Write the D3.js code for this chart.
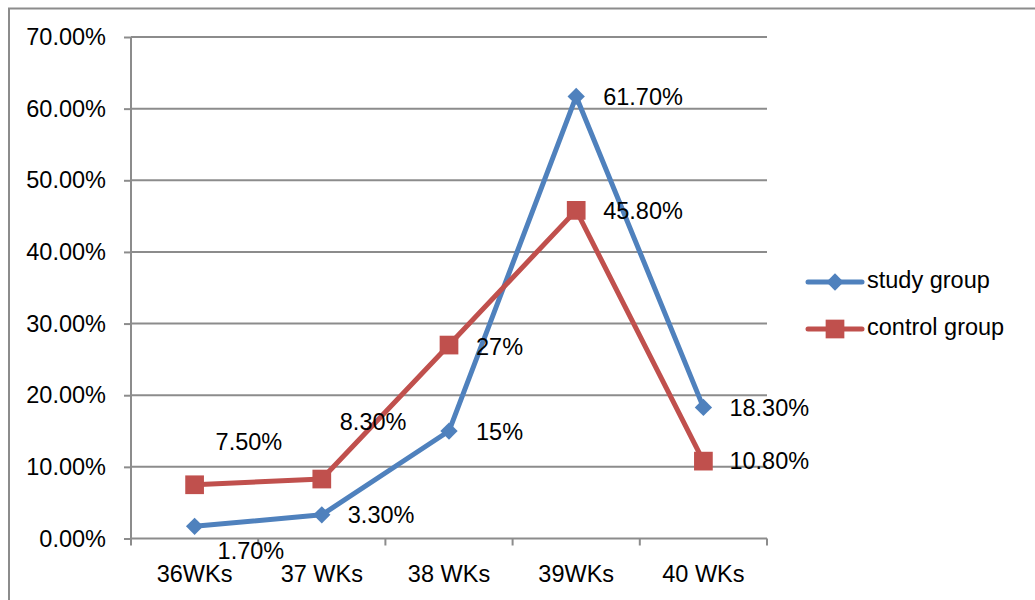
<!DOCTYPE html>
<html>
<head>
<meta charset="utf-8">
<script src="https://cdn.jsdelivr.net/npm/d3@7"></script>
<style>
  html, body { margin: 0; padding: 0; background: #fff; }
  svg { display: block; }
  text { font-family: "Liberation Sans", Arial, sans-serif; fill: #000; }
</style>
</head>
<body>
<svg id="chart" width="1035" height="600"></svg>
<script>
// Gestational age at delivery, share of each group
const categories = ["36WKs", "37 WKs", "38 WKs", "39WKs", "40 WKs"];
const studyGroup = [1.7, 3.3, 15, 61.7, 18.3];
const controlGroup = [7.5, 8.3, 27, 45.8, 10.8];
const studyLabels = ["1.70%", "3.30%", "15%", "61.70%", "18.30%"];
const controlLabels = ["7.50%", "8.30%", "27%", "45.80%", "10.80%"];
const yTicks = [0, 10, 20, 30, 40, 50, 60, 70];
const seriesNames = ["study group", "control group"];

// label placement relative to each point (dx, dy)
const studyLabelOffsets = [[23, 26], [26, 2], [27, 3], [27, 2], [26, 2]];
const controlLabelOffsets = [[21, -41], [18, -55], [27, 4], [27, 2], [26, 2]];

const FONT = 23.5;

const svg = d3.select("#chart");
const margin = { left: 131, right: 767, top: 37, bottom: 538.5 };

const x = d3.scaleBand().domain(categories).range([margin.left, margin.right]);
const y = d3.scaleLinear().domain([0, 70]).range([margin.bottom, margin.top]);

const gridColor = "#8c8c8c";
const blue = "#4F81BD";
const red = "#C0504D";

// outer frame
svg.append("path")
  .attr("d", "M9,600 V8.5 H1035")
  .attr("fill", "none").attr("stroke", gridColor).attr("stroke-width", 2);

// horizontal gridlines
svg.append("g").selectAll("line").data(yTicks.filter(d => d > 0)).join("line")
  .attr("x1", margin.left).attr("x2", margin.right)
  .attr("y1", d => y(d)).attr("y2", d => y(d))
  .attr("stroke", gridColor).attr("stroke-width", 2);

// y axis
const yAxis = d3.axisLeft(y).tickValues(yTicks).tickSize(7).tickPadding(18)
  .tickFormat(d => d.toFixed(2) + "%");
const gy = svg.append("g").attr("transform", `translate(${margin.left},0)`).call(yAxis);
gy.select(".domain").attr("stroke", gridColor).attr("stroke-width", 2)
  .attr("d", `M0,${margin.top}V${margin.bottom}`);
gy.selectAll(".tick line").attr("stroke", gridColor).attr("stroke-width", 2);
gy.selectAll(".tick text").attr("font-size", FONT).attr("font-family", "Liberation Sans").attr("fill", "#000");

// x axis
const xAxis = d3.axisBottom(x).tickSize(0).tickPadding(27);
const gx = svg.append("g").attr("transform", `translate(0,${margin.bottom})`).call(xAxis);
gx.select(".domain").attr("stroke", gridColor).attr("stroke-width", 2)
  .attr("d", `M${margin.left},0H${margin.right}`);
gx.selectAll(".tick text").attr("font-size", FONT).attr("font-family", "Liberation Sans").attr("fill", "#000");
// category boundary ticks
const bounds = categories.map(c => x(c)).concat([margin.right]);
gx.append("g").selectAll("line").data(bounds).join("line")
  .attr("x1", d => d).attr("x2", d => d).attr("y1", 0).attr("y2", 7)
  .attr("stroke", gridColor).attr("stroke-width", 2);

const cx = c => x(c) + x.bandwidth() / 2;
const line = d3.line().x((d, i) => cx(categories[i])).y(d => y(d));

// marker shapes: diamond is a square turned 45 degrees
const markers = {
  diamond: { path: d3.symbol().type(d3.symbolSquare).size(150)(), rotate: 45 },
  square: { path: d3.symbol().type(d3.symbolSquare).size(350)(), rotate: 0 }
};

function drawSeries(values, color, marker) {
  svg.append("path").datum(values)
    .attr("d", line).attr("fill", "none")
    .attr("stroke", color).attr("stroke-width", 5).attr("stroke-linejoin", "round");
  svg.append("g").selectAll("path").data(values).join("path")
    .attr("d", marker.path)
    .attr("transform", (d, i) => `translate(${cx(categories[i])},${y(d)}) rotate(${marker.rotate})`)
    .attr("fill", color);
}

drawSeries(studyGroup, blue, markers.diamond);
drawSeries(controlGroup, red, markers.square);

function drawLabels(values, labels, offsets) {
  svg.append("g").selectAll("text").data(values).join("text")
    .attr("x", (d, i) => cx(categories[i]) + offsets[i][0])
    .attr("y", (d, i) => y(d) + offsets[i][1])
    .attr("dominant-baseline", "middle")
    .attr("font-size", FONT)
    .text((d, i) => labels[i]);
}
drawLabels(studyGroup, studyLabels, studyLabelOffsets);
drawLabels(controlGroup, controlLabels, controlLabelOffsets);

// legend
const legend = svg.append("g");
const legendItems = [
  { name: seriesNames[0], color: blue, marker: markers.diamond, y: 282 },
  { name: seriesNames[1], color: red, marker: markers.square, y: 329 }
];
legendItems.forEach(it => {
  legend.append("line").attr("x1", 808).attr("x2", 862).attr("y1", it.y).attr("y2", it.y)
    .attr("stroke", it.color).attr("stroke-width", 5).attr("stroke-linecap", "round");
  legend.append("path").attr("d", it.marker.path)
    .attr("transform", `translate(835,${it.y}) rotate(${it.marker.rotate})`).attr("fill", it.color);
  legend.append("text").attr("x", 867).attr("y", it.y).attr("dominant-baseline", "middle")
    .attr("font-size", FONT).text(it.name);
});
</script>
</body>
</html>
